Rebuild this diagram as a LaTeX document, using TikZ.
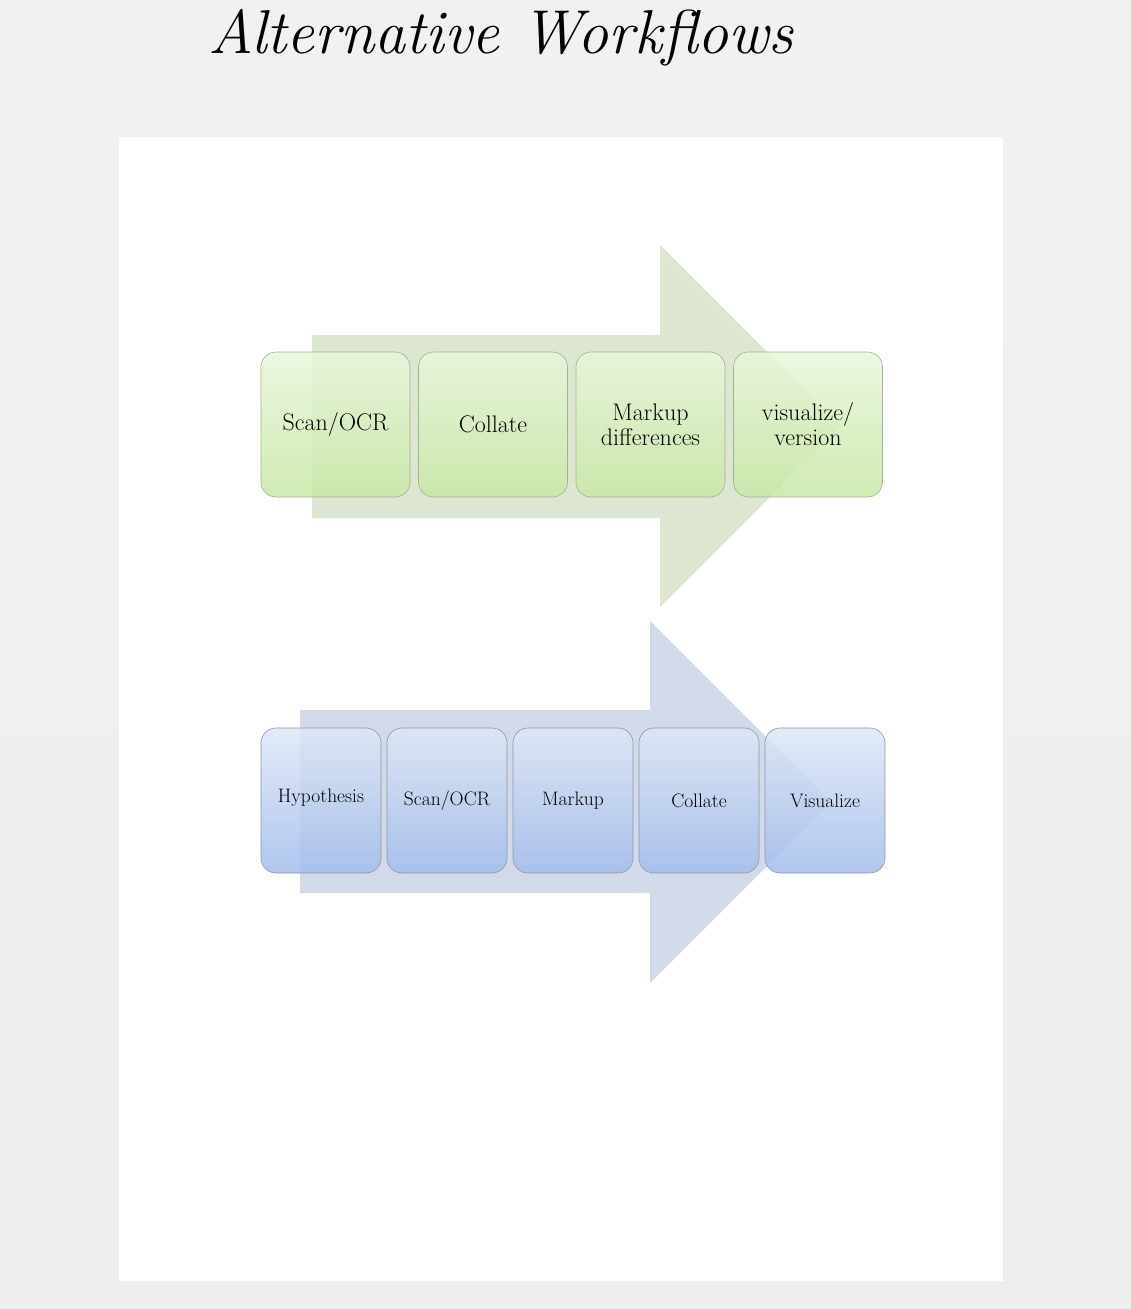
\documentclass[tikz,border=0pt]{standalone}
\usepackage{tikz}
\usetikzlibrary{positioning}

\definecolor{backgrey}{RGB}{238,238,238}
\definecolor{greenarrow}{RGB}{220,230,208}
\definecolor{greentop}{RGB}{234,246,220}
\definecolor{greenbottom}{RGB}{200,232,166}
\definecolor{greenline}{RGB}{160,180,140}
\definecolor{bluearrow}{RGB}{210,217,232}
\definecolor{bluetop}{RGB}{222,231,246}
\definecolor{bluebottom}{RGB}{162,189,236}
\definecolor{blueline}{RGB}{140,150,170}

\begin{document}
\begin{tikzpicture}[x=1pt, y=-1pt, node distance=8.5pt,
  topbox/.style={rectangle, rounded corners=15pt, draw=greenline, line width=0.6pt,
    top color=greentop, bottom color=greenbottom, fill opacity=0.85, text opacity=1,
    minimum width=149pt, minimum height=145pt, inner sep=2pt, outer sep=0pt,
    align=center, font=\fontsize{24}{25}\selectfont},
  lowbox/.style={rectangle, rounded corners=15pt, draw=blueline, line width=0.6pt,
    top color=bluetop, bottom color=bluebottom, fill opacity=0.85, text opacity=1,
    minimum width=120pt, minimum height=145pt, inner sep=2pt, outer sep=0pt,
    align=center, font=\fontsize{19.5}{21}\selectfont}]

\useasboundingbox (0,0) rectangle (1131,1309);
\shade[top color=backgrey!80, bottom color=backgrey] (0,0) rectangle (1131,1309);
\fill[white] (119,137) rectangle (1003,1281);

\node (title) at (501,38) {\fontsize{62}{66}\selectfont\itshape Alternative Workflows};

% first workflow
\fill[greenarrow] (312,335) -- (660,335) -- (660,245) -- (841,426)
  -- (660,607) -- (660,518) -- (312,518) -- cycle;

\node[topbox] (scan) at (335.5,424.5) {Scan/OCR};
\node[topbox] (collate) [right=of scan] {Collate};
\node[topbox] (markup) [right=of collate] {Markup\\differences};
\node[topbox] (visualize) [right=of markup] {visualize/\\version};

% second workflow
\fill[bluearrow] (300,710) -- (650,710) -- (650,621) -- (831,802)
  -- (650,983) -- (650,893) -- (300,893) -- cycle;

\node[lowbox] (hypo) at (321,800.5) {\raisebox{9pt}{Hypothesis}};
\node[lowbox] (scantwo) [right=6pt of hypo] {Scan/OCR};
\node[lowbox] (markuptwo) [right=6pt of scantwo] {Markup};
\node[lowbox] (collatetwo) [right=6pt of markuptwo] {Collate};
\node[lowbox] (vistwo) [right=6pt of collatetwo] {Visualize};
\end{tikzpicture}
\end{document}
